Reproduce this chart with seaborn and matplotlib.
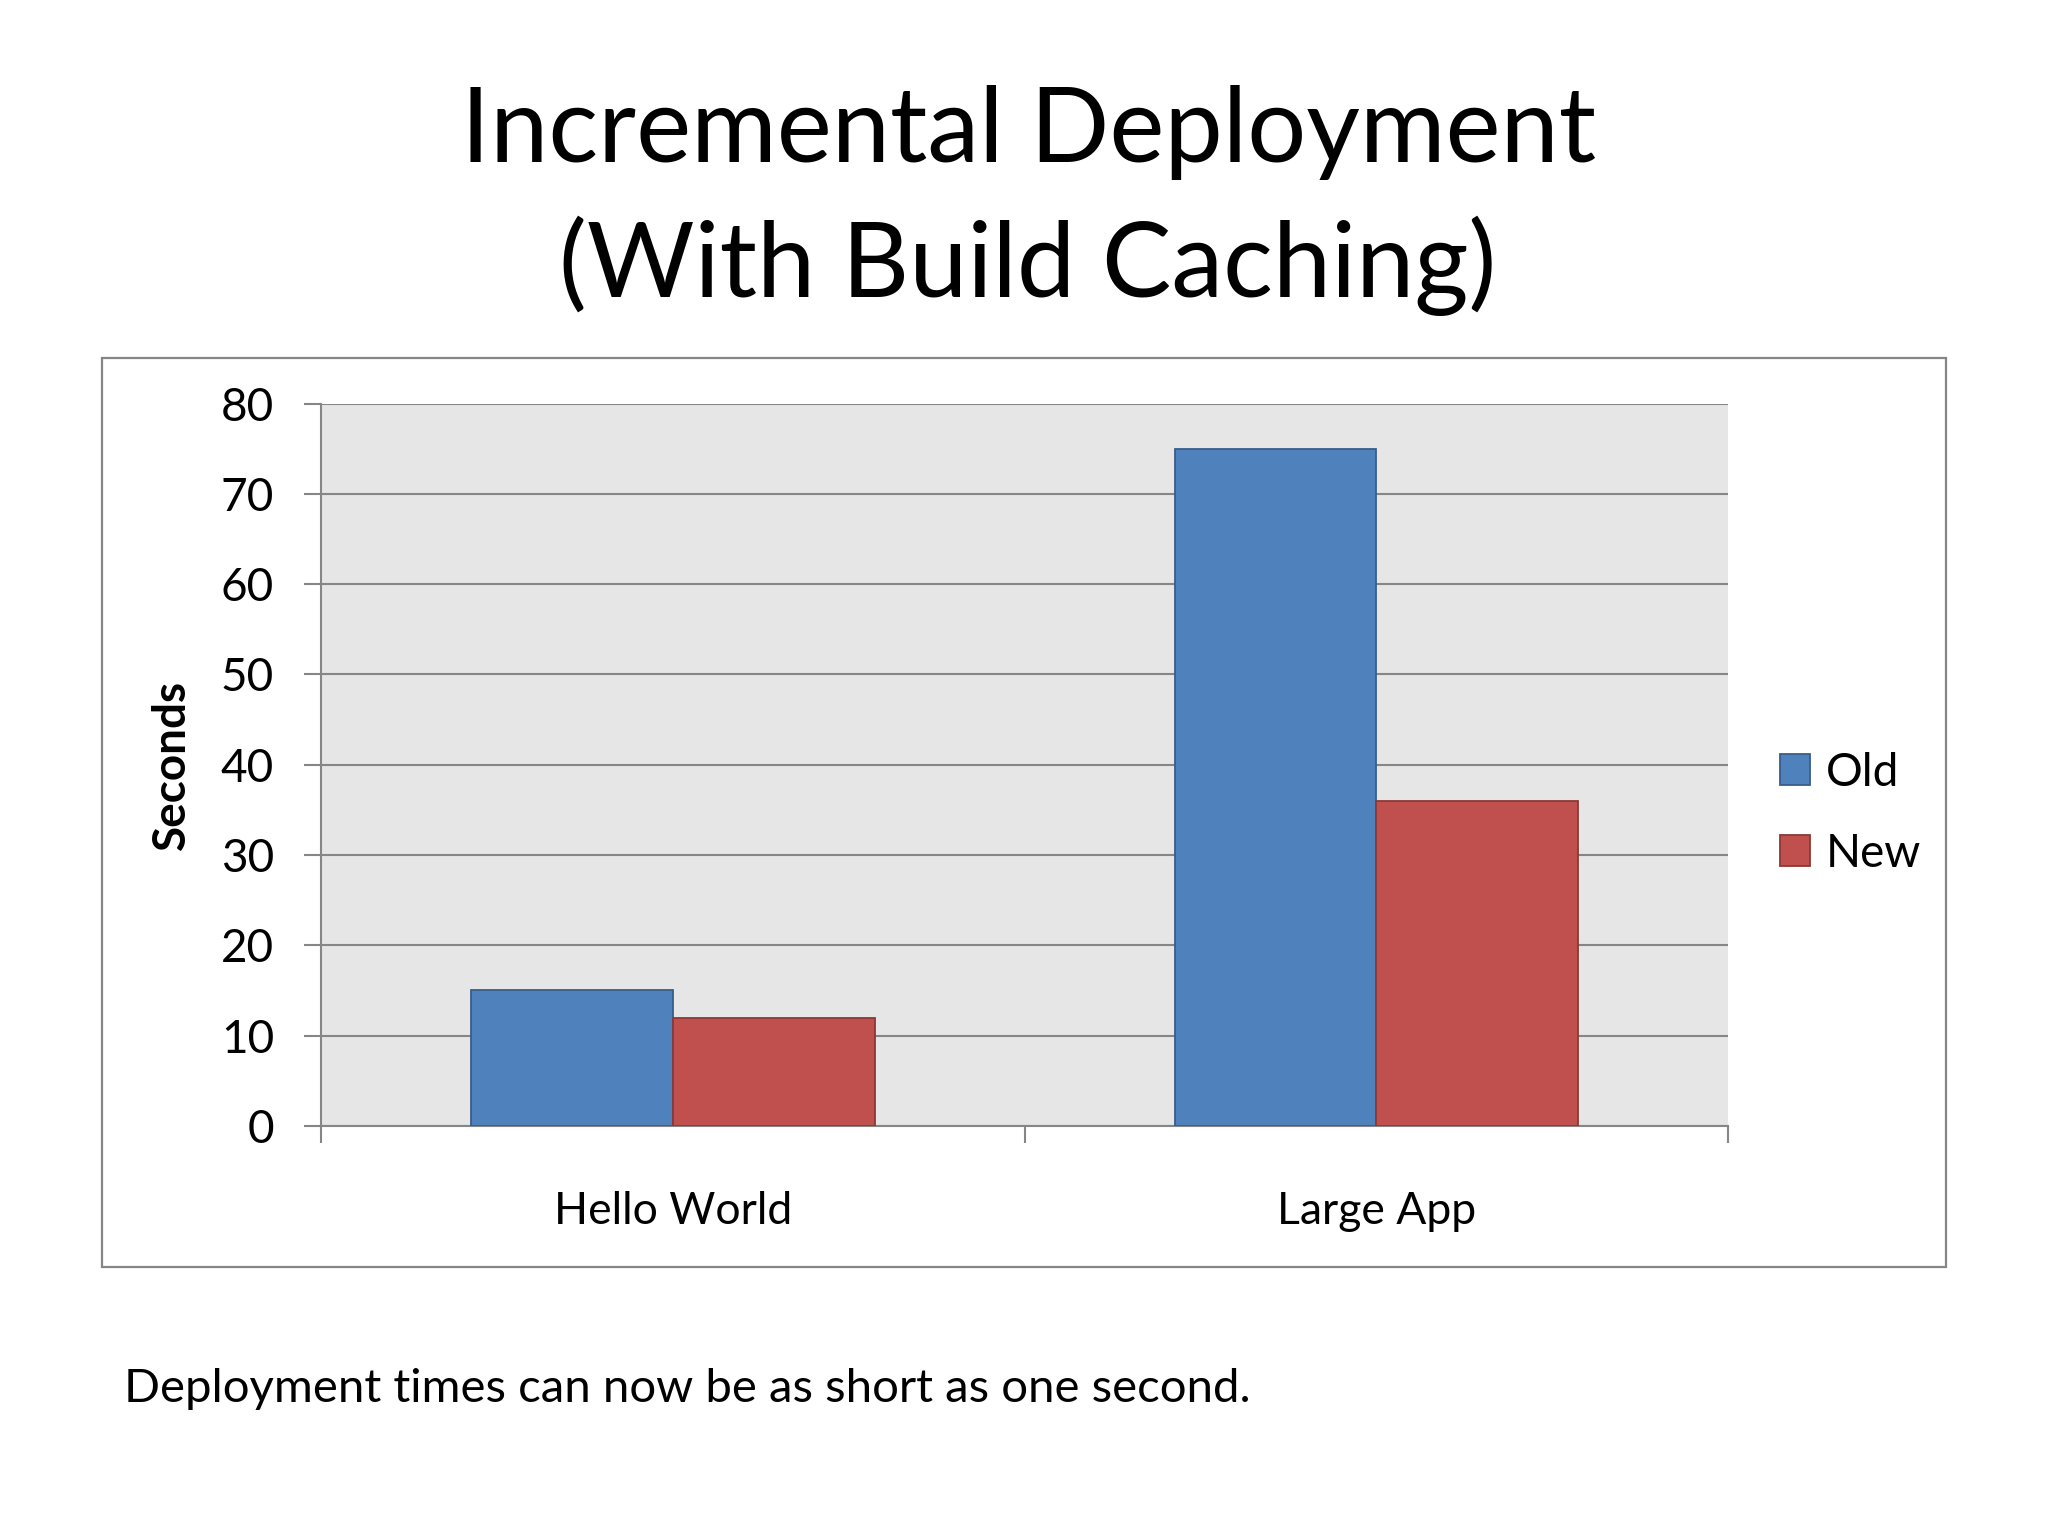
import pandas as pd
import seaborn as sns
import matplotlib.pyplot as plt
from matplotlib.patches import Rectangle

# data
apps = ['Hello World', 'Large App']
old_times = [15, 75]
new_times = [12, 36]
series = ['Old', 'New']

df = pd.DataFrame({
    'App': apps * 2,
    'Version': ['Old'] * len(apps) + ['New'] * len(apps),
    'Seconds': old_times + new_times,
})

sns.set_theme(style='white')
plt.rcParams['font.family'] = ['Lato', 'DejaVu Sans']
plt.rcParams['text.color'] = 'black'
plt.rcParams['xtick.color'] = 'black'
plt.rcParams['ytick.color'] = 'black'
plt.rcParams['axes.labelcolor'] = 'black'

palette = {'Old': '#4f81bd', 'New': '#c0504d'}
edges = {'Old': '#385d8a', 'New': '#8c3836'}
grey = '#868686'

fig = plt.figure(figsize=(20.48, 15.36), dpi=100)
ax = fig.add_axes([0.1569, 0.267, 0.6869, 0.4702])

# outer chart frame like the office chart box
fig.patches.append(Rectangle((0.0497, 0.1752), 0.9006, 0.5918, transform=fig.transFigure,
                             fill=False, edgecolor=grey, linewidth=1.6, zorder=0))

sns.barplot(data=df, x='App', y='Seconds', hue='Version', hue_order=series, order=apps,
            palette=palette, width=0.574, saturation=1, ax=ax, zorder=3)

for cont, name in zip(ax.containers, series):
    for bar in cont:
        bar.set_edgecolor(edges[name])
        bar.set_linewidth(1.3)

ax.set_facecolor('#e7e6e6')
ax.set_xlim(-0.5, 1.5)
ax.set_ylim(0, 80)
ax.set_yticks(range(0, 81, 10))
ax.yaxis.grid(True, color=grey, linewidth=1.5, zorder=1)
ax.set_axisbelow(True)

for s in ['top', 'right']:
    ax.spines[s].set_visible(False)
for s in ['left', 'bottom']:
    ax.spines[s].set_color(grey)
    ax.spines[s].set_linewidth(1.5)

ax.tick_params(axis='y', direction='out', length=12, width=1.5, color=grey,
               labelsize=33, pad=22, left=True, labelcolor='black')
ax.set_xticks([-0.5, 0.5, 1.5], minor=True)
ax.tick_params(axis='x', which='minor', direction='out', length=12, width=1.5,
               color=grey, bottom=True)
ax.tick_params(axis='x', which='major', length=0, labelsize=32, pad=47, labelcolor='black')

ax.set_xlabel('')
ax.set_ylabel('Seconds', fontsize=33, fontweight='bold', labelpad=20)

leg = ax.legend(loc='center left', bbox_to_anchor=(1.037, 0.433), frameon=False,
                borderaxespad=0, borderpad=0,
                fontsize=33, handlelength=0.65, handleheight=0.65, handletextpad=0.35,
                labelspacing=0.85)
for h, name in zip(leg.legend_handles, series):
    h.set_edgecolor(edges[name])
    h.set_linewidth(1.3)

fig.text(0.502, 0.914, 'Incremental Deployment', ha='center', va='center', fontsize=75)
fig.text(0.502, 0.827, '(With Build Caching)', ha='center', va='center', fontsize=75)
fig.text(0.0606, 0.0957, 'Deployment times can now be as short as one second.',
         ha='left', va='center', fontsize=34)

fig.savefig('out.png', dpi=100, facecolor='white')
